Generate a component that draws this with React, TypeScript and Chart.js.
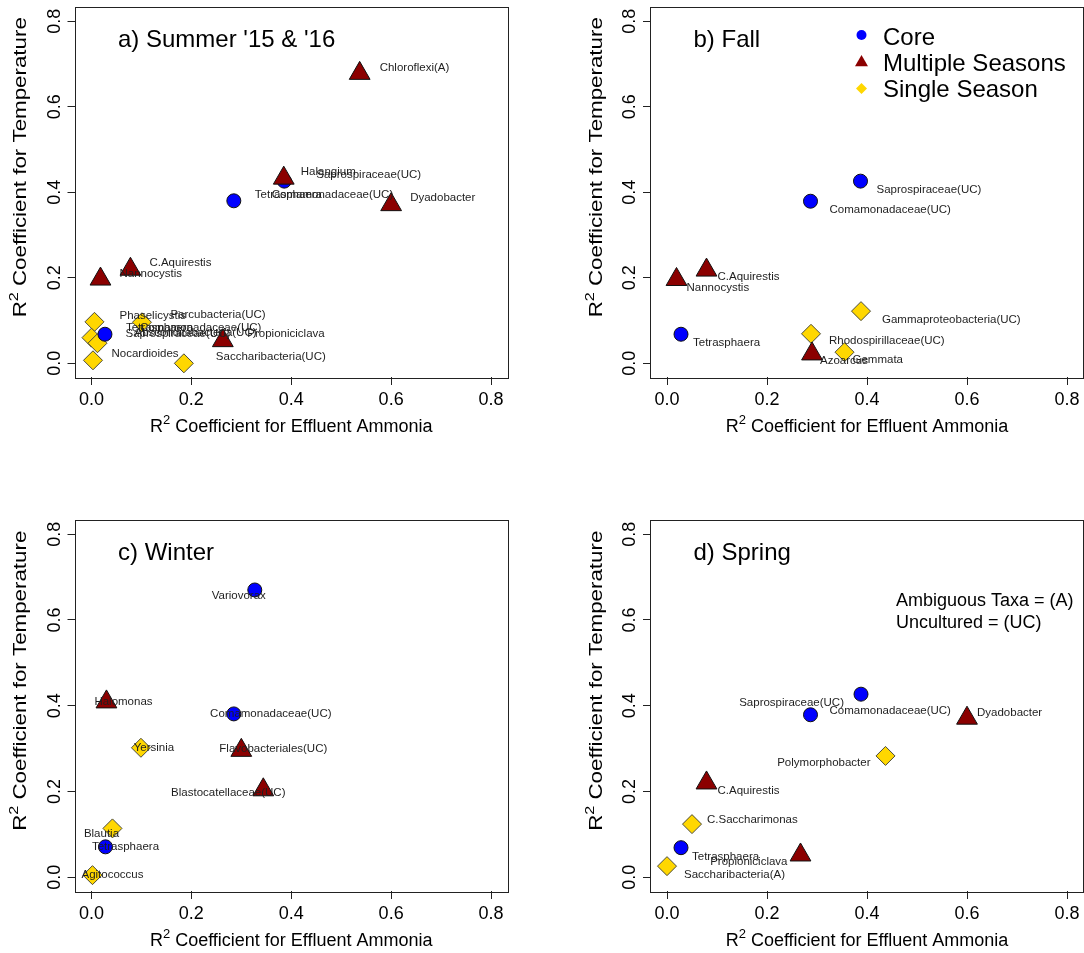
import { useEffect, useRef } from 'react';
import { Chart, registerables } from 'chart.js';

Chart.register(...registerables);

const FONT = '"Liberation Sans", Arial, Helvetica, sans-serif';

// Shared axis setup (R-style 4% extension around 0..0.8)
const axisTicks = [0, 0.2, 0.4, 0.6, 0.8];
const axisMin = -0.032;
const axisMax = 0.832;

const groupNames = ['Core', 'Multiple Seasons', 'Single Season'];
const groupColors = ['#0000FF', '#8B0000', '#FFD700'];

// ---- a) Summer '15 & '16 ----
const summerCoreNames = ['Saprospiraceae(UC)', 'Comamonadaceae(UC)', 'Tetrasphaera'];
const summerCoreX = [0.386, 0.285, 0.027];
const summerCoreY = [0.426, 0.38, 0.068];
const summerMultiNames = ['Chloroflexi(A)', 'Halangium', 'Dyadobacter', 'C.Aquirestis', 'Nannocystis', 'Propioniciclava'];
const summerMultiX = [0.537, 0.385, 0.6, 0.078, 0.018, 0.263];
const summerMultiY = [0.678, 0.433, 0.371, 0.22, 0.197, 0.053];
const summerSingleNames = ['Phaselicystis', 'Parcubacteria(UC)', 'Absconditabacteria(UC)', null, 'Nocardioides', 'Saccharibacteria(UC)'];
const summerSingleX = [0.006, 0.101, 0.0, 0.012, 0.003, 0.185];
const summerSingleY = [0.097, 0.096, 0.06, 0.047, 0.007, 0.0];

// ---- b) Fall ----
const fallCoreNames = ['Saprospiraceae(UC)', 'Comamonadaceae(UC)', 'Tetrasphaera'];
const fallCoreX = [0.387, 0.287, 0.028];
const fallCoreY = [0.426, 0.379, 0.068];
const fallMultiNames = ['C.Aquirestis', 'Nannocystis', 'Azoarcus'];
const fallMultiX = [0.079, 0.019, 0.29];
const fallMultiY = [0.218, 0.196, 0.022];
const fallSingleNames = ['Rhodospirillaceae(UC)', 'Gemmata', 'Gammaproteobacteria(UC)'];
const fallSingleX = [0.288, 0.355, 0.388];
const fallSingleY = [0.069, 0.026, 0.122];

// ---- c) Winter ----
const winterCoreNames = ['Variovorax', 'Comamonadaceae(UC)', 'Tetrasphaera'];
const winterCoreX = [0.327, 0.285, 0.028];
const winterCoreY = [0.67, 0.381, 0.071];
const winterMultiNames = ['Halomonas', 'Flavobacteriales(UC)', 'Blastocatellaceae(UC)'];
const winterMultiX = [0.03, 0.3, 0.344];
const winterMultiY = [0.409, 0.296, 0.204];
const winterSingleNames = ['Yersinia', 'Blautia', 'Agitococcus'];
const winterSingleX = [0.099, 0.042, 0.002];
const winterSingleY = [0.302, 0.114, 0.005];

// ---- d) Spring ----
const springCoreNames = ['Saprospiraceae(UC)', 'Comamonadaceae(UC)', 'Tetrasphaera'];
const springCoreX = [0.388, 0.287, 0.028];
const springCoreY = [0.427, 0.379, 0.069];
const springMultiNames = ['Dyadobacter', 'C.Aquirestis', 'Propioniciclava'];
const springMultiX = [0.6, 0.079, 0.267];
const springMultiY = [0.371, 0.22, 0.052];
const springSingleNames = ['Polymorphobacter', 'C.Saccharimonas', 'Saccharibacteria(A)'];
const springSingleX = [0.437, 0.05, 0.0];
const springSingleY = [0.283, 0.124, 0.026];

// Label placement: [group, index, dx px, dy px, align, optional text]
type Place = [number, number, number, number, CanvasTextAlign, string?];

const summerPlaces: Place[] = [
  [0, 0, 32, -6, 'left'],
  [0, 1, 38, -6, 'left'],
  [0, 1, 21, -6, 'left', 'Tetrasphaera'],
  [0, 2, 21, -6.5, 'left'],
  [0, 2, 35, -6.5, 'left', 'Comamonadaceae(UC)'],
  [0, 2, 20.5, -0.5, 'left', 'Saprospiraceae(UC)'],
  [1, 0, 20, -6, 'left'],
  [1, 1, 17, -6, 'left'],
  [1, 2, 19, -7, 'left'],
  [1, 3, 19, -6, 'left'],
  [1, 4, 19, -5.5, 'left'],
  [1, 5, 24.5, -7, 'left'],
  [2, 0, 25, -6.5, 'left'],
  [2, 1, 28.5, -7, 'left'],
  [2, 2, 43, -4.5, 'left'],
  [2, 4, 18.5, -6.5, 'left'],
  [2, 5, 32, -6, 'left'],
];

const fallPlaces: Place[] = [
  [0, 0, 16, 9, 'left'],
  [0, 1, 19, 9, 'left'],
  [0, 2, 12, 9, 'left'],
  [1, 0, 11, 7, 'left'],
  [1, 1, 10, 8, 'left'],
  [1, 2, 8, 6.5, 'left'],
  [2, 0, 18, 7.5, 'left'],
  [2, 1, 8, 7.5, 'left'],
  [2, 2, 21, 8.5, 'left'],
];

const winterPlaces: Place[] = [
  [0, 0, -16, 6, 'center'],
  [0, 1, 37, 0, 'center'],
  [0, 2, 20, 0, 'center'],
  [1, 0, 17, 0, 'center'],
  [1, 1, 32, -1.5, 'center'],
  [1, 2, -35, 3, 'center'],
  [2, 0, 13, 0, 'center'],
  [2, 1, -11, 5, 'center'],
  [2, 2, 20, 0, 'center'],
];

const springPlaces: Place[] = [
  [0, 0, -17, 9, 'right'],
  [0, 1, 19, -4, 'left'],
  [0, 2, 11, 9, 'left'],
  [1, 0, 10, -5.5, 'left'],
  [1, 1, 11, 8, 'left'],
  [1, 2, -13, 7, 'right'],
  [2, 0, -15, 7, 'right'],
  [2, 1, 15, -4, 'left'],
  [2, 2, 17, 9, 'left'],
];

type Extra = 'none' | 'legend' | 'note';

interface PanelSpec {
  title: string;
  names: (string | null)[][];
  xs: number[][];
  ys: number[][];
  places: Place[];
  extra: Extra;
  left: number;
  top: number;
  width: number;
  height: number;
  padTop: number;
  padRight: number;
  yAxisWidth: number;
  xAxisHeight: number;
}

const panels: PanelSpec[] = [
  {
    title: "a) Summer '15 & '16",
    names: [summerCoreNames, summerMultiNames, summerSingleNames],
    xs: [summerCoreX, summerMultiX, summerSingleX],
    ys: [summerCoreY, summerMultiY, summerSingleY],
    places: summerPlaces,
    extra: 'none',
    left: 0, top: 0, width: 542, height: 470,
    padTop: 7.5, padRight: 35, yAxisWidth: 75.5, xAxisHeight: 93,
  },
  {
    title: 'b) Fall',
    names: [fallCoreNames, fallMultiNames, fallSingleNames],
    xs: [fallCoreX, fallMultiX, fallSingleX],
    ys: [fallCoreY, fallMultiY, fallSingleY],
    places: fallPlaces,
    extra: 'legend',
    left: 542, top: 0, width: 542, height: 470,
    padTop: 7.5, padRight: 1, yAxisWidth: 109, xAxisHeight: 93,
  },
  {
    title: 'c) Winter',
    names: [winterCoreNames, winterMultiNames, winterSingleNames],
    xs: [winterCoreX, winterMultiX, winterSingleX],
    ys: [winterCoreY, winterMultiY, winterSingleY],
    places: winterPlaces,
    extra: 'none',
    left: 0, top: 470, width: 542, height: 483,
    padTop: 50.5, padRight: 35, yAxisWidth: 75.5, xAxisHeight: 62,
  },
  {
    title: 'd) Spring',
    names: [springCoreNames, springMultiNames, springSingleNames],
    xs: [springCoreX, springMultiX, springSingleX],
    ys: [springCoreY, springMultiY, springSingleY],
    places: springPlaces,
    extra: 'note',
    left: 542, top: 470, width: 542, height: 483,
    padTop: 50.5, padRight: 1, yAxisWidth: 109, xAxisHeight: 62,
  },
];

const pointStyles = ['circle', 'triangle', 'rectRot'] as const;
const pointRadii = [7, 12, 9.5];
const pointBorders = ['#111111', '#111111', '#4a4a3a'];

function marker(ctx: CanvasRenderingContext2D, style: string, x: number, y: number, r: number, fill: string) {
  ctx.beginPath();
  if (style === 'circle') {
    ctx.arc(x, y, r, 0, Math.PI * 2);
  } else if (style === 'triangle') {
    ctx.moveTo(x, y - r);
    ctx.lineTo(x + (r * Math.sqrt(3)) / 2, y + r / 2);
    ctx.lineTo(x - (r * Math.sqrt(3)) / 2, y + r / 2);
    ctx.closePath();
  } else {
    ctx.moveTo(x - r, y);
    ctx.lineTo(x, y - r);
    ctx.lineTo(x + r, y);
    ctx.lineTo(x, y + r);
    ctx.closePath();
  }
  ctx.fillStyle = fill;
  ctx.fill();
}

// Axis title with a superscript "2" after the R, centred on the origin
function drawR2Title(ctx: CanvasRenderingContext2D, rest: string, baseline: number) {
  const main = `18px ${FONT}`;
  const sup = `13px ${FONT}`;
  ctx.font = main;
  const wR = ctx.measureText('R').width;
  const wRest = ctx.measureText(' ' + rest).width;
  ctx.font = sup;
  const w2 = ctx.measureText('2').width;
  const total = wR + w2 + wRest;
  let x = -total / 2;
  ctx.textAlign = 'left';
  ctx.textBaseline = 'alphabetic';
  ctx.fillStyle = '#000';
  ctx.font = main;
  ctx.fillText('R', x, baseline);
  x += wR;
  ctx.font = sup;
  ctx.fillText('2', x, baseline - 8);
  x += w2;
  ctx.font = main;
  ctx.fillText(' ' + rest, x, baseline);
}

function makeConfig(spec: PanelSpec): any {
  const datasets = [1, 0, 2].map((g) => ({
    label: groupNames[g],
    data: spec.xs[g].map((x, i) => ({ x, y: spec.ys[g][i] })),
    pointStyle: pointStyles[g],
    pointRadius: pointRadii[g],
    pointHoverRadius: pointRadii[g],
    backgroundColor: groupColors[g],
    borderColor: pointBorders[g],
    borderWidth: 1,
    showLine: false,
  }));

  const decor = {
    id: 'panelDecor',
    beforeDatasetsDraw(chart: any) {
      const { ctx, chartArea: a } = chart;
      ctx.save();
      ctx.strokeStyle = '#222';
      ctx.lineWidth = 1;
      ctx.strokeRect(Math.round(a.left) - 0.5, Math.round(a.top) - 0.5, Math.round(a.right - a.left) + 1, Math.round(a.bottom - a.top) + 1);
      ctx.restore();
    },
    afterDatasetsDraw(chart: any) {
      const { ctx, scales } = chart;
      ctx.save();
      ctx.font = `11.5px ${FONT}`;
      ctx.fillStyle = '#1e1e1e';
      ctx.textBaseline = 'middle';
      for (const [g, i, dx, dy, align, text] of spec.places) {
        const label = text ?? spec.names[g][i];
        if (!label) continue;
        const px = scales.x.getPixelForValue(spec.xs[g][i]);
        const py = scales.y.getPixelForValue(spec.ys[g][i]);
        ctx.textAlign = align;
        ctx.fillText(label, px + dx, py + dy);
      }
      ctx.restore();
    },
    afterDraw(chart: any) {
      const { ctx, chartArea: a, scales } = chart;
      ctx.save();
      // rotated y tick labels
      ctx.fillStyle = '#000';
      ctx.font = `18px ${FONT}`;
      ctx.textAlign = 'center';
      ctx.textBaseline = 'alphabetic';
      for (const v of axisTicks) {
        const py = scales.y.getPixelForValue(v);
        ctx.save();
        ctx.translate(a.left - 16, py);
        ctx.rotate(-Math.PI / 2);
        ctx.fillText(v.toFixed(1), 0, 0);
        ctx.restore();
      }
      // x axis title
      ctx.save();
      ctx.translate((a.left + a.right) / 2, a.bottom);
      drawR2Title(ctx, 'Coefficient for Effluent Ammonia', 55);
      ctx.restore();
      // y axis title
      ctx.save();
      ctx.translate(a.left - 49.5, (a.top + a.bottom) / 2 - 25);
      ctx.rotate(-Math.PI / 2);
      ctx.scale(1.24, 1);
      drawR2Title(ctx, 'Coefficient for Temperature', 0);
      ctx.restore();
      // panel title
      ctx.fillStyle = '#000';
      ctx.font = `24px ${FONT}`;
      ctx.textAlign = 'left';
      ctx.textBaseline = 'alphabetic';
      ctx.fillText(spec.title, a.left + 42.5, a.top + 39);

      if (spec.extra === 'legend') {
        const mx = a.left + 210.5;
        const tx = a.left + 232;
        const rows = [
          { style: 'circle', r: 5, my: 27.5, base: 37.5 },
          { style: 'triangle', r: 7.5, my: 55, base: 63.5 },
          { style: 'diamond', r: 5.5, my: 81, base: 89.5 },
        ];
        rows.forEach((row, g) => {
          marker(ctx, row.style, mx, a.top + row.my, row.r, groupColors[g]);
          ctx.fillStyle = '#000';
          ctx.font = `24px ${FONT}`;
          ctx.fillText(groupNames[g], tx, a.top + row.base);
        });
      }
      if (spec.extra === 'note') {
        ctx.fillStyle = '#000';
        ctx.font = `18px ${FONT}`;
        ctx.fillText('Ambiguous Taxa = (A)', a.left + 245, a.top + 85);
        ctx.fillText('Uncultured = (UC)', a.left + 245, a.top + 107);
      }
      ctx.restore();
    },
  };

  const baseScale = {
    type: 'linear',
    min: axisMin,
    max: axisMax,
    afterBuildTicks: (s: any) => {
      s.ticks = axisTicks.map((value) => ({ value }));
    },
    grid: { drawOnChartArea: false, drawTicks: true, tickLength: 8, color: '#222', lineWidth: 1 },
    border: { display: false },
  };

  return {
    type: 'scatter',
    data: { datasets },
    plugins: [decor],
    options: {
      responsive: false,
      animation: false,
      devicePixelRatio: 1,
      events: [],
      layout: { autoPadding: false, padding: { left: 0, top: spec.padTop, right: spec.padRight, bottom: 0 } },
      plugins: { legend: { display: false }, tooltip: { enabled: false } },
      scales: {
        x: {
          ...baseScale,
          position: 'bottom',
          afterFit: (s: any) => {
            s.height = spec.xAxisHeight;
            s.paddingLeft = 0;
            s.paddingRight = 0;
          },
          ticks: {
            autoSkip: false,
            maxRotation: 0,
            minRotation: 0,
            padding: 4,
            color: '#000',
            font: { family: FONT, size: 18 },
            callback: (v: any) => Number(v).toFixed(1),
          },
        },
        y: {
          ...baseScale,
          position: 'left',
          afterFit: (s: any) => {
            s.width = spec.yAxisWidth;
            s.paddingTop = 0;
            s.paddingBottom = 0;
          },
          ticks: { display: false },
        },
      },
    },
  };
}

function Panel({ spec }: { spec: PanelSpec }) {
  const ref = useRef<HTMLCanvasElement>(null);
  useEffect(() => {
    const chart = new Chart(ref.current as HTMLCanvasElement, makeConfig(spec));
    return () => chart.destroy();
  }, [spec]);
  return (
    <canvas
      ref={ref}
      width={spec.width}
      height={spec.height}
      style={{ position: 'absolute', left: spec.left, top: spec.top, width: spec.width, height: spec.height }}
    />
  );
}

export default function App() {
  return (
    <div style={{ position: 'absolute', left: 0, top: 0, width: 1084, height: 953, background: '#fff', overflow: 'hidden' }}>
      {panels.map((p) => (
        <Panel key={p.title} spec={p} />
      ))}
    </div>
  );
}
